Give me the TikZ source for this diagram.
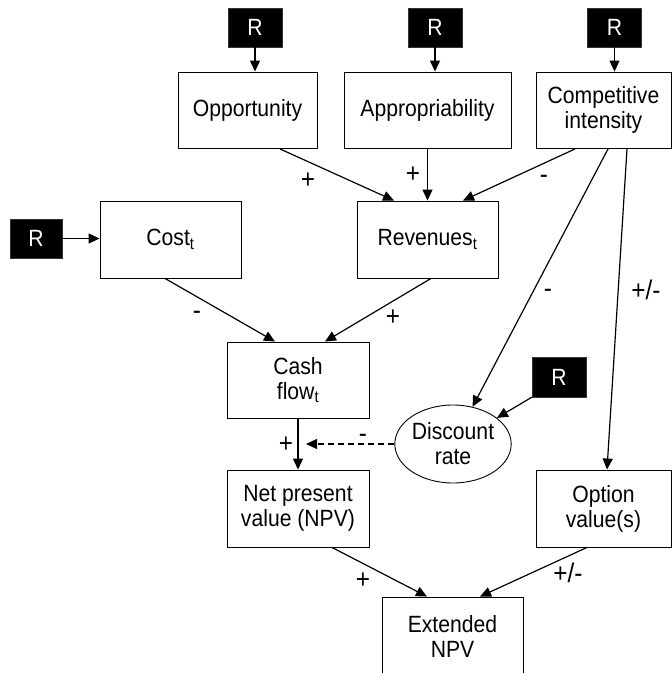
\documentclass[tikz,border=0pt]{standalone}
\usepackage{fontspec}
\setmainfont{Liberation Sans}[FakeStretch=0.9]
\usetikzlibrary{arrows.meta,shapes.geometric}
\begin{document}
\begin{tikzpicture}[x=1pt,y=-1pt,
  txt/.style={font=\fontsize{23.5}{25}\selectfont},
  box/.style={txt,draw,line width=0.9pt,align=center,inner sep=0pt},
  rbox/.style={txt,fill=black,draw=black!80,text=white,inner sep=0pt,minimum width=54pt,minimum height=39pt},
  conn/.style={line width=1.2pt,-{Triangle[length=11pt,width=10pt]}},
  lab/.style={font=\fontsize{27}{30}\selectfont,anchor=base,inner sep=0pt}]
\useasboundingbox (0,0) rectangle (672,673);
\clip (0,0) rectangle (672,673);
% R boxes
\node[rbox] (r1) at (255,27.5) {R};
\node[rbox] (r2) at (435,27.5) {R};
\node[rbox] (r3) at (614.5,27.5) {R};
\node[rbox,minimum width=52pt] (rL) at (36,238.5) {R};
\node[rbox,minimum height=40pt] (rR) at (559,377) {R};
% boxes
\node[box,minimum width=139pt,minimum height=76.5pt] (opp) at (247.5,110.25) {Opportunity};
\node[box,minimum width=167pt,minimum height=76.5pt] (app) at (427.5,110.25) {Appropriability};
\node[box,minimum width=135pt,minimum height=76.5pt] (comp) at (603.5,110.25) {Competitive\\intensity};
\node[box,minimum width=141pt,minimum height=77pt] (cost) at (170.5,239.5) {Cost\textsubscript{t}};
\node[box,minimum width=141pt,minimum height=77pt] (rev) at (427.5,239.5) {Revenues\textsubscript{t}};
\node[box,minimum width=142pt,minimum height=76pt] (cash) at (298,380) {Cash\\flow\textsubscript{t}};
\node[txt,draw,line width=0.9pt,ellipse,inner sep=0pt,minimum width=116pt,minimum height=78pt,align=center] (disc) at (453,444) {Discount\\rate};
\node[box,minimum width=142pt,minimum height=77pt] (npv) at (298,508.5) {Net present\\value (NPV)};
\node[box,minimum width=135pt,minimum height=77pt] (opt) at (603.5,508.5) {Option\\value(s)};
\node[box,minimum width=141pt,minimum height=78pt] (ext) at (452.5,636) {Extended\\NPV};
\coordinate (dtip) at (306,444);
% connectors
\draw[conn] (r1.south) -- (r1.south |- opp.north);
\draw[conn] (r2.south) -- (r2.south |- app.north);
\draw[conn] (r3.south) -- (r3.south |- comp.north);
\draw[conn] (rL.east) -- (rL.east -| cost.west);
\draw[conn] ([xshift=32.5pt]opp.south) -- ([xshift=-33.5pt]rev.north);
\draw[conn] (app.south) -- (rev.north);
\draw[conn] ([xshift=-28.5pt]comp.south) -- ([xshift=35.5pt]rev.north);
\draw[conn] ([xshift=4.5pt]comp.south) -- (disc);
\draw[conn] ([xshift=23.5pt]comp.south) -- ([xshift=3.5pt]opt.north);
\draw[conn] ([xshift=-5.5pt]cost.south) -- ([xshift=-23pt]cash.north);
\draw[conn] ([xshift=3.5pt]rev.south) -- ([xshift=27pt]cash.north);
\draw[conn] (cash.south) -- (npv.north);
\draw[conn] (rR.south west) -- (disc);
\draw[conn,dash pattern=on 6pt off 4pt] (disc.west) -- (dtip);
\draw[conn] ([xshift=34pt]npv.south) -- ([xshift=-25.5pt]ext.north);
\draw[conn] ([xshift=-16.5pt]opt.south) -- ([xshift=27.5pt]ext.north);
% labels
\node[lab] (l1) at (308,188) {+};
\node[lab] (l2) at (413,182) {+};
\node[lab] (l3) at (544,183) {-};
\node[lab] (l4) at (197,319) {-};
\node[lab] (l5) at (393,325) {+};
\node[lab] (l6) at (548,297) {-};
\node[lab] (l7) at (646,299) {+/-};
\node[lab] (l8) at (286,452) {+};
\node[lab] (l9) at (363,442) {-};
\node[lab] (l10) at (363,588) {+};
\node[lab] (l11) at (568,582) {+/-};
\end{tikzpicture}
\end{document}
